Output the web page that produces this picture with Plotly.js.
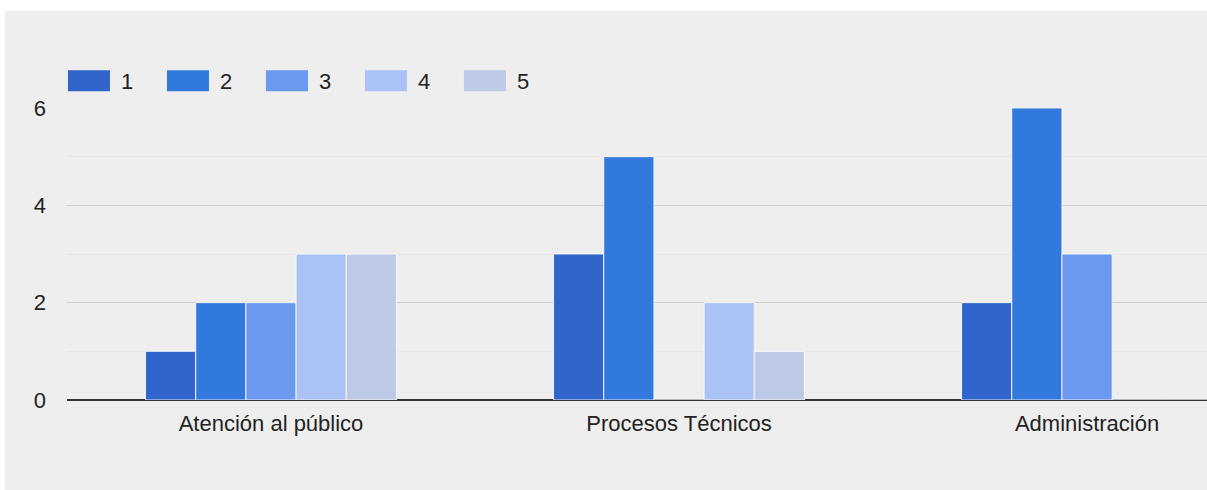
<!DOCTYPE html>
<html>
<head>
<meta charset="utf-8">
<script src="https://cdn.plot.ly/plotly-3.0.1.min.js"></script>
<style>
  html, body { margin: 0; padding: 0; background: #ffffff; overflow: hidden; }
  #chart { position: absolute; left: 5px; top: 11px; width: 1202px; height: 479px; }
</style>
</head>
<body>
<div id="chart"></div>
<script>
const categories = ["Atención al público", "Procesos Técnicos", "Administración"];
const seriesNames = ["1", "2", "3", "4", "5"];
const s1 = [1, 3, 2];
const s2 = [2, 5, 6];
const s3 = [2, 0, 3];
const s4 = [3, 2, 0];
const s5 = [3, 1, 0];
const seriesValues = [s1, s2, s3, s4, s5];
const colors = ["#3165cc", "#3279dd", "#6b99f0", "#aac2f6", "#bfcae8"];
const yTicks = [0, 2, 4, 6];

const traces = seriesValues.map((vals, i) => ({
  type: "bar",
  name: seriesNames[i],
  x: categories,
  y: vals,
  marker: { color: colors[i], line: { color: "rgba(255,255,255,0.85)", width: 1 } },
  hoverinfo: "none"
}));

const layout = {
  width: 1202,
  height: 479,
  paper_bgcolor: "#eeeeee",
  plot_bgcolor: "#eeeeee",
  margin: { l: 62, r: 0, t: 97, b: 90 },
  font: { family: "Liberation Sans, Arial, sans-serif", size: 22, color: "#222222" },
  barmode: "group",
  bargap: 0.385,
  bargroupgap: 0,
  showlegend: true,
  legend: {
    orientation: "h",
    xref: "container", yref: "container",
    x: 0.0632, y: 0.854, xanchor: "left", yanchor: "middle",
    entrywidth: 54, entrywidthmode: "pixels",
    font: { size: 22, color: "#222222" },
    bgcolor: "rgba(0,0,0,0)",
    traceorder: "normal"
  },
  xaxis: {
    type: "category",
    range: [-0.5, 2.294],
    showgrid: false,
    zeroline: false,
    showline: false,
    ticks: "",
    ticklabelstandoff: 8,
    tickfont: { size: 22, color: "#222222" },
    fixedrange: true
  },
  yaxis: {
    range: [0, 6],
    tickvals: yTicks,
    ticktext: yTicks.map(String),
    showgrid: true,
    gridcolor: "#cfcfcf",
    gridwidth: 1,
    minor: { dtick: 1, showgrid: true, gridcolor: "#e6e6e6", gridwidth: 1 },
    zeroline: true,
    zerolinecolor: "#333333",
    zerolinewidth: 1.5,
    showline: false,
    ticks: "",
    ticklabelstandoff: 20,
    tickfont: { size: 22, color: "#222222" },
    fixedrange: true
  }
};

Plotly.newPlot("chart", traces, layout, { staticPlot: true, displayModeBar: false }).then(gd => {
  gd.querySelectorAll(".legend [clip-path]").forEach(e => e.removeAttribute("clip-path"));
  gd.querySelectorAll(".legend .legendpoints path").forEach(p => {
    p.setAttribute("d", "M-33,-10.5H9V10.5H-33Z");
    p.style.strokeWidth = "0";
  });
});
</script>
</body>
</html>
